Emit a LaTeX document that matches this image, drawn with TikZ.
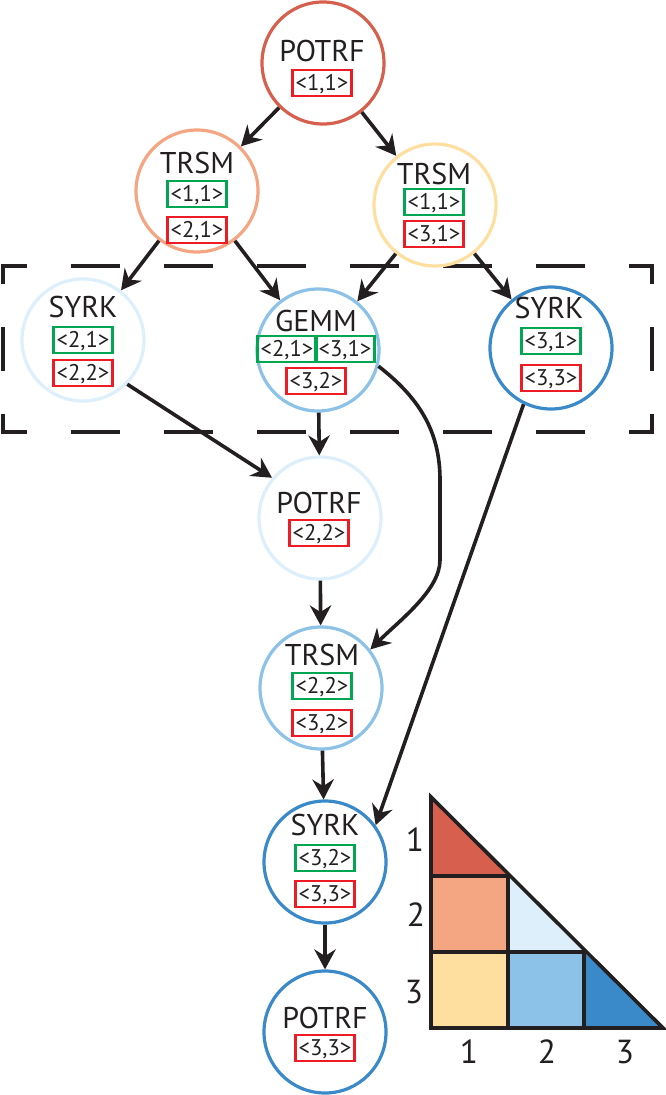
\documentclass[tikz,border=0pt]{standalone}
\usepackage{fontspec}
\setmainfont{PT Sans}
\usetikzlibrary{arrows.meta}
\definecolor{cRed}{HTML}{D6604D}
\definecolor{cOrange}{HTML}{F4A582}
\definecolor{cYellow}{HTML}{FFDFA0}
\definecolor{cLight}{HTML}{DCEFFA}
\definecolor{cMid}{HTML}{8CC2E8}
\definecolor{cDark}{HTML}{3A89C9}
\definecolor{bxRed}{HTML}{ED1C24}
\definecolor{bxGreen}{HTML}{00A650}
\definecolor{ink}{HTML}{231F20}
\begin{document}
\begin{tikzpicture}[x=0.75pt,y=-0.75pt,
  task/.style={circle, line width=2.4pt, minimum size=91.5pt, inner sep=0pt},
  ttl/.style={font=\fontsize{22.5}{22.5}\selectfont, inner sep=0pt, text=ink, text height=15.6pt, text depth=0pt},
  bx/.style={draw, line width=2.2pt, inner xsep=2.3pt, inner ysep=0pt, minimum height=19.5pt,
    font=\fontsize{17}{17}\selectfont, text=ink, text height=11.9pt, text depth=0pt},
  rb/.style={bx, draw=bxRed},
  gb/.style={bx, draw=bxGreen},
  arr/.style={draw=ink, line width=2.7pt, -{Stealth[length=15pt,width=16pt,inset=5pt]}},
  grid/.style={draw=ink, line width=2.7pt, line join=miter},
  num/.style={font=\fontsize{25}{25}\selectfont, text=ink, inner sep=0pt, text height=17.5pt, text depth=0pt},
  hdash/.style={draw=ink, line width=2.5pt, line cap=rect, dash pattern=on 33.75pt off 36pt, dash phase=17.25pt},
  vdash/.style={draw=ink, line width=2.5pt, line cap=rect, dash pattern=on 30pt off 35.25pt, dash phase=18pt}]
\useasboundingbox (0,0) rectangle (666,1095);

% dashed group frame
\draw[hdash] (3,266) -- (652,266);
\draw[hdash] (3,432) -- (652,432);
\draw[vdash] (3,266) -- (3,432);
\draw[vdash] (652,266) -- (652,432);

% tasks
\node[task, draw=cRed] (p1) at (323,63) {};
\node[ttl] (p1t) at (322,51) {POTRF};
\node[rb] (p1b) at (322,83) {<1,1>};

\node[task, draw=cOrange] (t1) at (197,191) {};
\node[ttl] (t1t) at (197,163) {TRSM};
\node[gb] (t1g) at (197,194) {<1,1>};
\node[rb] (t1r) at (197,230) {<2,1>};

\node[task, draw=cYellow] (t2) at (435,205) {};
\node[ttl] (t2t) at (434,174) {TRSM};
\node[gb] (t2g) at (434,202) {<1,1>};
\node[rb] (t2r) at (434,234) {<3,1>};

\node[task, draw=cLight] (s1) at (83,340) {};
\node[ttl] (s1t) at (83,307) {SYRK};
\node[gb] (s1g) at (83,340) {<2,1>};
\node[rb] (s1r) at (83,373) {<2,2>};

\node[task, draw=cMid] (gm) at (318,350) {};
\node[ttl] (gmt) at (316,321) {GEMM};
\node[gb] (gmg1) at (287,349) {<2,1>};
\node[gb] (gmg2) at (345,349) {<3,1>};
\node[rb] (gmr) at (316,381) {<3,2>};

\node[task, draw=cDark] (s2) at (551,348) {};
\node[ttl] (s2t) at (549,308) {SYRK};
\node[gb] (s2g) at (551,341) {<3,1>};
\node[rb] (s2r) at (551,378) {<3,3>};

\node[task, draw=cLight] (p2) at (320,518) {};
\node[ttl] (p2t) at (319,503) {POTRF};
\node[rb] (p2b) at (319,533) {<2,2>};

\node[task, draw=cMid] (t3) at (321,688) {};
\node[ttl] (t3t) at (322,655) {TRSM};
\node[gb] (t3g) at (322,686) {<2,2>};
\node[rb] (t3r) at (322,723) {<3,2>};

\node[task, draw=cDark] (s3) at (325,862) {};
\node[ttl] (s3t) at (325,825) {SYRK};
\node[gb] (s3g) at (325,858) {<3,2>};
\node[rb] (s3r) at (325,894) {<3,3>};

\node[task, draw=cDark] (p3) at (325,1032) {};
\node[ttl] (p3t) at (325,1018) {POTRF};
\node[rb] (p3b) at (325,1048) {<3,3>};

% dependencies
\draw[arr] (p1) -- (t1);
\draw[arr] (p1) -- (t2);
\draw[arr] (t1) -- (s1);
\draw[arr] (t1) -- (gm);
\draw[arr] (t2) -- (gm);
\draw[arr] (t2) -- (s2);
\draw[arr] (s1.-45) -- (p2.140);
\draw[arr] (gm) -- (p2);
\coordinate (bendA) at (440,480);
\coordinate (bendB) at (440,560);
\draw[arr] (gm.-15) .. controls (418,397) and (440,430) .. (bendA) -- (bendB)
  .. controls (440,590) and (400,620) .. (t3.38);
\draw[arr] (p2) -- (t3);
\draw[arr] (s2.-116) -- (s3.36);
\draw[arr] (t3) -- (s3);
\draw[arr] (s3) -- (p3);

% lower-triangular matrix legend
\fill[cRed] (431,797) -- (431,876) -- (508,876) -- cycle;
\fill[cOrange] (431,876) rectangle (508,952);
\fill[cLight] (508,876) -- (508,952) -- (584,952) -- cycle;
\fill[cYellow] (431,952) rectangle (508,1028);
\fill[cMid] (508,952) rectangle (584,1028);
\fill[cDark] (584,952) -- (584,1028) -- (663,1028) -- cycle;
\draw[grid] (431,797) -- (431,1028) -- (663,1028) -- cycle;
\draw[grid] (431,876) -- (508,876);
\draw[grid] (431,952) -- (584,952);
\draw[grid] (508,876) -- (508,1028);
\draw[grid] (584,952) -- (584,1028);
\node[num] (r1) at (415,840) {1};
\node[num] (r2) at (416,915) {2};
\node[num] (r3) at (414,992) {3};
\node[num] (c1) at (469,1052) {1};
\node[num] (c2) at (547,1052) {2};
\node[num] (c3) at (625,1052) {3};
\end{tikzpicture}
\end{document}
